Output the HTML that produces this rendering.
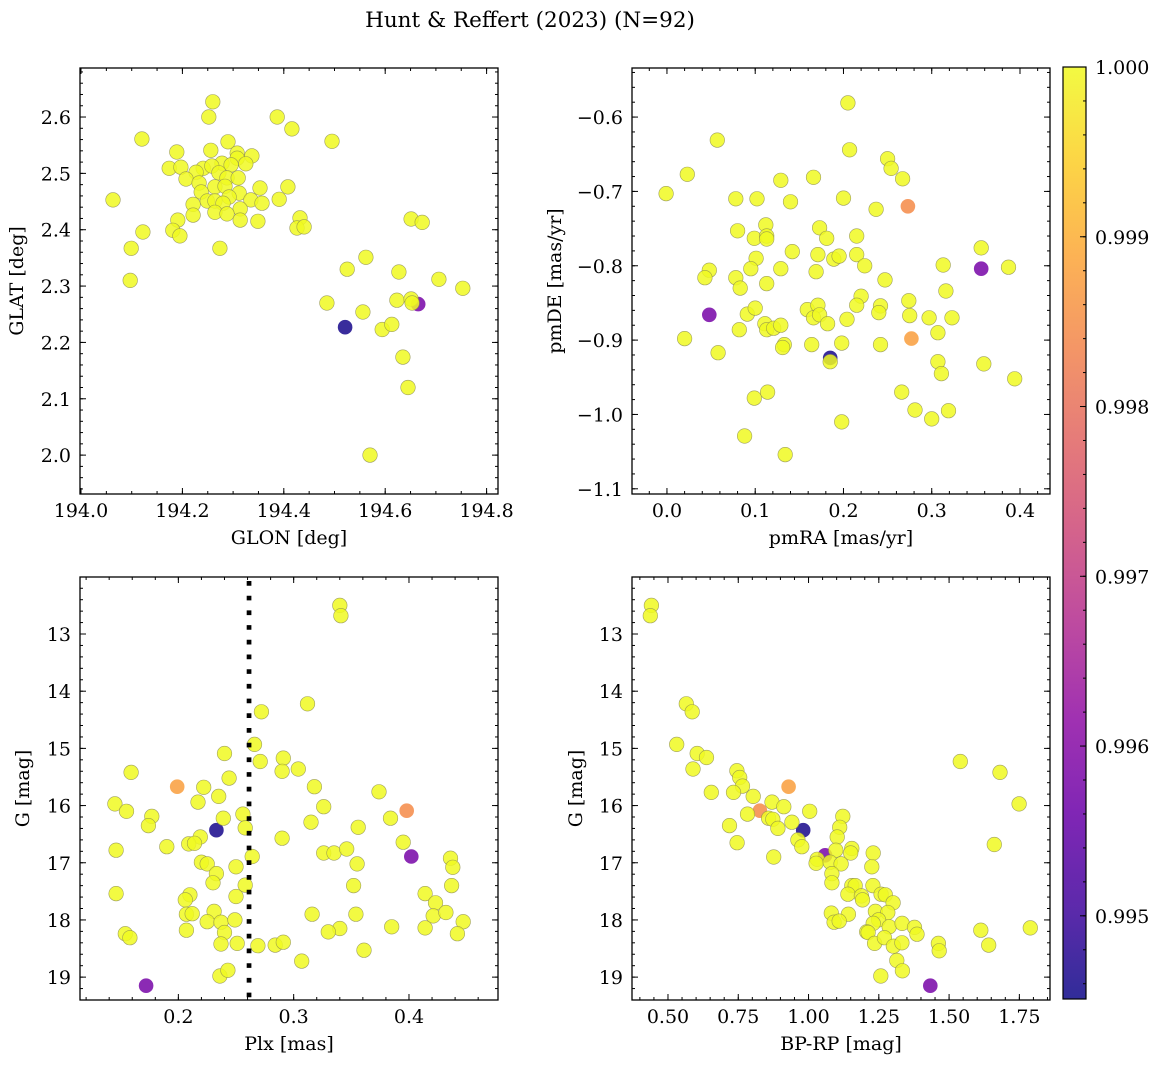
<!DOCTYPE html>
<html><head><meta charset="utf-8"><title>Hunt & Reffert (2023)</title>
<style>
html,body{margin:0;padding:0;background:#fff;}
svg{display:block;font-family:"DejaVu Serif","Liberation Serif",serif;}
</style></head>
<body>
<svg id="fig" width="1161" height="1067" viewBox="0 0 1161 1067" xmlns="http://www.w3.org/2000/svg">
<text x="530" y="27" font-size="21.5" text-anchor="middle">Hunt &amp; Reffert (2023) (N=92)</text>
</svg>
<script>
// ---- data: [x, y, membership probability] ----
const skyPoints = [
[194.260,2.627,1],[194.252,2.600,1],[194.387,2.600,1],[194.416,2.579,1],[194.120,2.561,1],[194.495,2.557,1],[194.290,2.556,1],[194.256,2.541,1],[194.189,2.538,1],[194.308,2.536,1],
[194.337,2.531,1],[194.308,2.527,1],[194.325,2.517,1],[194.278,2.518,1],[194.174,2.509,1],[194.197,2.511,1],[194.241,2.509,1],[194.227,2.502,1],[194.258,2.513,1],[194.296,2.515,1],
[194.272,2.501,1],[194.207,2.490,1],[194.288,2.492,1],[194.310,2.492,1],[194.233,2.483,1],[194.264,2.476,1],[194.284,2.477,1],[194.353,2.474,1],[194.408,2.476,1],[194.237,2.467,1],
[194.312,2.465,1],[194.292,2.458,1],[194.063,2.453,1],[194.221,2.445,1],[194.249,2.451,1],[194.264,2.451,1],[194.335,2.453,1],[194.357,2.447,1],[194.391,2.454,1],[194.280,2.447,1],
[194.314,2.437,1],[194.221,2.426,1],[194.264,2.431,1],[194.288,2.428,1],[194.191,2.417,1],[194.314,2.417,1],[194.349,2.415,1],[194.432,2.421,1],[194.426,2.403,1],[194.440,2.405,1],
[194.181,2.399,1],[194.122,2.396,1],[194.195,2.389,1],[194.099,2.367,1],[194.274,2.367,1],[194.562,2.351,1],[194.525,2.330,1],[194.097,2.310,1],[194.651,2.419,1],[194.673,2.413,1],
[194.627,2.325,1],[194.706,2.312,1],[194.753,2.296,1],[194.485,2.270,1],[194.623,2.275,1],[194.651,2.277,1],[194.653,2.270,1],[194.665,2.268,0.9958],[194.556,2.254,1],[194.521,2.227,0.9946],
[194.594,2.223,1],[194.613,2.232,1],[194.635,2.174,1],[194.645,2.120,1],[194.570,2.000,1]
];
const pmPoints = [
[0.057,-0.631,1],[0.023,-0.677,1],[-0.001,-0.703,1],[0.129,-0.685,1],[0.166,-0.681,1],[0.078,-0.710,1],[0.102,-0.710,1],[0.140,-0.714,1],[0.080,-0.753,1],[0.112,-0.745,1],
[0.099,-0.763,1],[0.113,-0.760,1],[0.113,-0.764,1],[0.173,-0.749,1],[0.181,-0.763,1],[0.142,-0.781,1],[0.101,-0.790,1],[0.095,-0.804,1],[0.129,-0.804,1],[0.171,-0.785,1],
[0.189,-0.791,1],[0.195,-0.787,1],[0.169,-0.808,1],[0.048,-0.806,1],[0.043,-0.816,1],[0.078,-0.816,1],[0.083,-0.830,1],[0.113,-0.824,1],[0.048,-0.866,0.9958],[0.091,-0.865,1],
[0.100,-0.857,1],[0.159,-0.859,1],[0.171,-0.853,1],[0.166,-0.870,1],[0.173,-0.866,1],[0.182,-0.878,1],[0.111,-0.878,1],[0.113,-0.886,1],[0.121,-0.884,1],[0.129,-0.880,1],
[0.082,-0.886,1],[0.020,-0.898,1],[0.058,-0.917,1],[0.133,-0.906,1],[0.131,-0.910,1],[0.164,-0.906,1],[0.185,-0.924,0.9946],[0.185,-0.929,1],[0.099,-0.978,1],[0.114,-0.970,1],
[0.088,-1.029,1],[0.134,-1.054,1],[0.205,-0.581,1],[0.207,-0.644,1],[0.250,-0.656,1],[0.254,-0.669,1],[0.267,-0.683,1],[0.200,-0.709,1],[0.237,-0.724,1],[0.273,-0.720,0.99845],
[0.215,-0.760,1],[0.215,-0.785,1],[0.224,-0.800,1],[0.247,-0.819,1],[0.220,-0.841,1],[0.215,-0.853,1],[0.242,-0.854,1],[0.240,-0.863,1],[0.274,-0.847,1],[0.275,-0.867,1],
[0.297,-0.870,1],[0.323,-0.870,1],[0.307,-0.890,1],[0.204,-0.872,1],[0.198,-0.904,1],[0.242,-0.906,1],[0.277,-0.898,0.99875],[0.313,-0.799,1],[0.356,-0.776,1],[0.356,-0.804,0.9958],
[0.387,-0.802,1],[0.316,-0.834,1],[0.307,-0.929,1],[0.311,-0.945,1],[0.359,-0.932,1],[0.394,-0.952,1],[0.266,-0.970,1],[0.281,-0.994,1],[0.300,-1.006,1],[0.319,-0.995,1],
[0.198,-1.010,1]
];
const plxPoints = [
[0.340,12.50,1],[0.341,12.68,1],[0.312,14.22,1],[0.272,14.36,1],[0.266,14.93,1],[0.240,15.09,1],[0.271,15.23,1],[0.291,15.17,1],[0.290,15.40,1],[0.304,15.36,1],
[0.159,15.42,1],[0.244,15.52,1],[0.318,15.67,1],[0.199,15.67,0.99875],[0.222,15.68,1],[0.235,15.84,1],[0.374,15.76,1],[0.145,15.97,1],[0.217,15.94,1],[0.155,16.10,1],
[0.326,16.02,1],[0.398,16.09,0.99845],[0.177,16.19,1],[0.239,16.22,1],[0.256,16.15,1],[0.174,16.35,1],[0.258,16.39,1],[0.315,16.29,1],[0.384,16.22,1],[0.356,16.38,1],
[0.233,16.43,0.9946],[0.219,16.55,1],[0.290,16.57,1],[0.395,16.64,1],[0.146,16.78,1],[0.190,16.72,1],[0.209,16.67,1],[0.214,16.66,1],[0.326,16.83,1],[0.335,16.83,1],
[0.346,16.76,1],[0.402,16.89,0.9958],[0.264,16.89,1],[0.436,16.92,1],[0.438,17.08,1],[0.220,16.99,1],[0.225,17.02,1],[0.250,17.07,1],[0.355,17.02,1],[0.233,17.19,1],
[0.230,17.35,1],[0.258,17.39,1],[0.352,17.40,1],[0.437,17.40,1],[0.146,17.54,1],[0.210,17.56,1],[0.206,17.65,1],[0.250,17.59,1],[0.414,17.54,1],[0.423,17.70,1],
[0.421,17.93,1],[0.432,17.87,1],[0.447,18.03,1],[0.442,18.24,1],[0.414,18.14,1],[0.385,18.12,1],[0.354,17.90,1],[0.316,17.90,1],[0.340,18.15,1],[0.330,18.21,1],
[0.207,17.90,1],[0.212,17.89,1],[0.231,17.85,1],[0.225,18.03,1],[0.237,18.04,1],[0.249,18.00,1],[0.240,18.22,1],[0.207,18.18,1],[0.154,18.24,1],[0.158,18.31,1],
[0.237,18.42,1],[0.251,18.41,1],[0.269,18.45,1],[0.284,18.44,1],[0.291,18.39,1],[0.361,18.53,1],[0.307,18.72,1],[0.236,18.98,1],[0.243,18.88,1],[0.172,19.15,0.9958]
];
const cmdPoints = [
[0.441,12.50,1],[0.437,12.68,1],[0.565,14.22,1],[0.586,14.36,1],[0.531,14.93,1],[0.604,15.09,1],[0.637,15.16,1],[0.589,15.36,1],[1.540,15.23,1],[1.681,15.42,1],
[0.745,15.39,1],[0.755,15.51,1],[0.765,15.66,1],[0.654,15.77,1],[0.733,15.77,1],[0.929,15.67,0.99875],[0.803,15.84,1],[0.870,15.94,1],[0.912,16.02,1],[1.749,15.97,1],
[0.827,16.09,0.99845],[0.783,16.15,1],[1.004,16.10,1],[0.858,16.22,1],[0.873,16.24,1],[0.941,16.29,1],[1.122,16.19,1],[0.719,16.35,1],[0.891,16.40,1],[0.981,16.43,0.9946],
[1.111,16.38,1],[1.102,16.55,1],[0.962,16.60,1],[0.976,16.72,1],[0.746,16.65,1],[1.661,16.68,1],[0.876,16.90,1],[1.059,16.87,0.9958],[1.097,16.78,1],[1.154,16.75,1],
[1.150,16.83,1],[1.230,16.83,1],[1.031,16.94,1],[1.027,17.01,1],[1.077,16.99,1],[1.116,17.02,1],[1.225,17.07,1],[1.083,17.19,1],[1.083,17.35,1],[1.154,17.40,1],
[1.166,17.40,1],[1.140,17.55,1],[1.188,17.58,1],[1.192,17.65,1],[1.229,17.40,1],[1.258,17.55,1],[1.273,17.56,1],[1.301,17.70,1],[1.081,17.88,1],[1.142,17.90,1],
[1.091,18.04,1],[1.109,18.02,1],[1.238,17.85,1],[1.282,17.87,1],[1.249,18.00,1],[1.230,18.06,1],[1.287,18.12,1],[1.333,18.06,1],[1.377,18.13,1],[1.386,18.25,1],
[1.207,18.21,1],[1.212,18.22,1],[1.235,18.41,1],[1.270,18.31,1],[1.302,18.46,1],[1.332,18.40,1],[1.462,18.41,1],[1.465,18.54,1],[1.613,18.18,1],[1.641,18.44,1],
[1.789,18.14,1],[1.314,18.71,1],[1.334,18.89,1],[1.257,18.98,1],[1.433,19.15,0.9958]
];
const plxRef = 0.2613;
const cbTicks = [1.000,0.999,0.998,0.997,0.996,0.995];
const cbMin = 0.99451, cbMax = 1.0;

const NS='http://www.w3.org/2000/svg';
const svg=document.getElementById('fig');
const FS=19;
function mk(tag,attrs,parent){const e=document.createElementNS(NS,tag);for(const k in attrs)e.setAttribute(k,attrs[k]);(parent||svg).appendChild(e);return e;}
const stops=[[13,8,135],[65,4,157],[106,0,168],[143,13,164],[177,42,144],[204,71,120],[225,100,98],[242,132,75],[252,166,54],[252,206,37],[240,249,33]];
function cmap(p){let t=(p-cbMin)/(cbMax-cbMin);t=Math.max(0,Math.min(1,t));const f=t*10,i=Math.min(9,Math.floor(f)),u=f-i;const a=stops[i],b=stops[i+1];return 'rgb('+a.map((v,k)=>Math.round(v+(b[k]-v)*u)).join(',')+')';}
function fmtNum(v,d){const s=Math.abs(v).toFixed(d);return (v<0?'\u2212':'')+s;}

function panel(cfg){
  const g=mk('g',{});
  
  
  const sx=v=>cfg.l+(v-cfg.xr[0])/(cfg.xr[1]-cfg.xr[0])*(cfg.r-cfg.l);
  const sy=v=>cfg.t+(v-cfg.yr[0])/(cfg.yr[1]-cfg.yr[0])*(cfg.b-cfg.t);
  const clip='clip-'+cfg.name;
  const cp=mk('clipPath',{id:clip},g);mk('rect',{x:cfg.l,y:cfg.t,width:cfg.r-cfg.l,height:cfg.b-cfg.t},cp);
  const pg=mk('g',{'clip-path':'url(#'+clip+')'},g);
  
  
  const order=cfg.pts.map((p,i)=>i).sort((a,b)=>(cfg.pts[a][2]<1?0:1)-(cfg.pts[b][2]<1?0:1));
  order.forEach(i=>{const p=cfg.pts[i];
    const c=mk('circle',{cx:sx(p[0]).toFixed(1),cy:sy(p[1]).toFixed(1),r:7.3,fill:cmap(p[2]),'fill-opacity':0.85,stroke:p[2]<1?'none':'#8a8a50','stroke-width':0.6,'stroke-opacity':0.8},pg);
    
    
  });
  if(cfg.vline!==undefined){
    const ln=mk('line',{x1:sx(cfg.vline),x2:sx(cfg.vline),y1:cfg.t+4,y2:cfg.b,stroke:'#000','stroke-width':4.7,'stroke-dasharray':'4.7 10'},pg);
    
    
  }
  const ax=mk('g',{stroke:'#000','stroke-width':1},g);
  
  
  mk('rect',{x:cfg.l,y:cfg.t,width:cfg.r-cfg.l,height:cfg.b-cfg.t,fill:'none','stroke-width':1.3},ax);
  const xlo=Math.min(...cfg.xr),xhi=Math.max(...cfg.xr),ylo=Math.min(...cfg.yr),yhi=Math.max(...cfg.yr);
  for(let v=Math.ceil(xlo/cfg.xminor-1e-6)*cfg.xminor;v<=xhi;v+=cfg.xminor){const x=sx(v);
    mk('line',{x1:x,x2:x,y1:cfg.b,y2:cfg.b-3},ax);mk('line',{x1:x,x2:x,y1:cfg.t,y2:cfg.t+3},ax);}
  for(let v=Math.ceil(ylo/cfg.yminor-1e-6)*cfg.yminor;v<=yhi;v+=cfg.yminor){const y=sy(v);
    mk('line',{x1:cfg.l,x2:cfg.l+3,y1:y,y2:y},ax);mk('line',{x1:cfg.r,x2:cfg.r-3,y1:y,y2:y},ax);}
  const tl=mk('g',{'font-size':FS,fill:'#000'},g);
  cfg.xt.forEach(v=>{const x=sx(v);
    mk('line',{x1:x,x2:x,y1:cfg.b,y2:cfg.b-6,stroke:'#000'},ax);mk('line',{x1:x,x2:x,y1:cfg.t,y2:cfg.t+6,stroke:'#000'},ax);
    const t=mk('text',{x:x,y:cfg.b+23,'text-anchor':'middle'},tl);t.textContent=fmtNum(v,cfg.xd);
    
    });
  cfg.yt.forEach(v=>{const y=sy(v);
    mk('line',{x1:cfg.l,x2:cfg.l+6,y1:y,y2:y,stroke:'#000'},ax);mk('line',{x1:cfg.r,x2:cfg.r-6,y1:y,y2:y,stroke:'#000'},ax);
    const t=mk('text',{x:cfg.l-9,y:y+7,'text-anchor':'end'},tl);t.textContent=fmtNum(v,cfg.yd);
    
    });
  const xl=mk('text',{x:(cfg.l+cfg.r)/2,y:cfg.b+50,'text-anchor':'middle','font-size':FS},g);xl.textContent=cfg.xlab;
  
  
  const yl=mk('text',{x:0,y:0,'text-anchor':'middle','font-size':FS,transform:'translate('+(cfg.ylx)+','+((cfg.t+cfg.b)/2)+') rotate(-90)'},g);yl.textContent=cfg.ylab;
  
  
}

panel({name:'sky-panel',l:80,r:498,t:68,b:494,xr:[193.998,194.8225],yr:[2.687,1.931],pts:skyPoints,
  xt:[194.0,194.2,194.4,194.6,194.8],xd:1,xminor:0.05,yt:[2.0,2.1,2.2,2.3,2.4,2.5,2.6],yd:1,yminor:0.02,xlab:'GLON [deg]',ylab:'GLAT [deg]',ylx:23});
panel({name:'proper-motion-panel',l:632,r:1050,t:68,b:494,xr:[-0.0396,0.434],yr:[-0.534,-1.107],pts:pmPoints,
  xt:[0.0,0.1,0.2,0.3,0.4],xd:1,xminor:0.02,yt:[-0.6,-0.7,-0.8,-0.9,-1.0,-1.1],yd:1,yminor:0.02,xlab:'pmRA [mas/yr]',ylab:'pmDE [mas/yr]',ylx:561});
panel({name:'parallax-panel',l:80,r:498,t:577,b:1000,xr:[0.1147,0.4772],yr:[12.003,19.40],pts:plxPoints,vline:plxRef,
  xt:[0.2,0.3,0.4],xd:1,xminor:0.02,yt:[13,14,15,16,17,18,19],yd:0,yminor:0.2,xlab:'Plx [mas]',ylab:'G [mag]',ylx:29});
panel({name:'cmd-panel',l:632,r:1050,t:577,b:1000,xr:[0.372,1.859],yr:[12.003,19.40],pts:cmdPoints,
  xt:[0.5,0.75,1.0,1.25,1.5,1.75],xd:2,xminor:0.05,yt:[13,14,15,16,17,18,19],yd:0,yminor:0.2,xlab:'BP-RP [mag]',ylab:'G [mag]',ylx:582});

// colorbar
const cb=mk('g',{});


const defs=mk('defs',{},cb);
const lg=mk('linearGradient',{id:'cbgrad',x1:0,y1:1,x2:0,y2:0},defs);
for(let i=0;i<=20;i++){const t=i/20;mk('stop',{offset:t,'stop-color':cmap(cbMin+t*(cbMax-cbMin))},lg);}
const cbT=67,cbB=999,cbL=1063,cbR=1086;
mk('rect',{x:cbL,y:cbT,width:cbR-cbL,height:cbB-cbT,fill:'url(#cbgrad)','fill-opacity':0.85},cb);
mk('rect',{x:cbL,y:cbT,width:cbR-cbL,height:cbB-cbT,fill:'none',stroke:'#000','stroke-width':1.2},cb);
const cy=v=>cbB-(v-cbMin)/(cbMax-cbMin)*(cbB-cbT);
for(let v=0.9946;v<=1.00001;v+=0.0002){mk('line',{x1:cbR,x2:cbR-3,y1:cy(v),y2:cy(v),stroke:'#000'},cb);}
cbTicks.forEach(v=>{const y=cy(v);mk('line',{x1:cbR,x2:cbR-6,y1:y,y2:y,stroke:'#000'},cb);
  const t=mk('text',{x:cbR+9,y:y+7,'font-size':FS},cb);t.textContent=v.toFixed(3);
  
  });
</script>
</body></html>
